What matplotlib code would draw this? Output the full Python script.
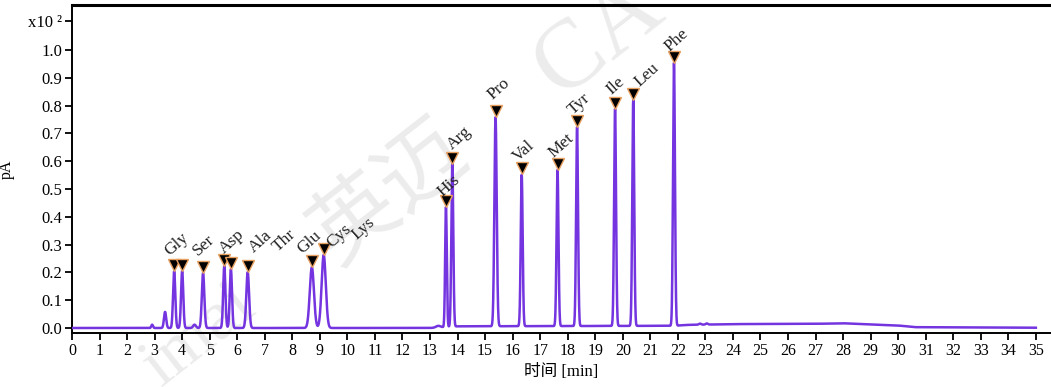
import numpy as np
import matplotlib
matplotlib.use("Agg")
import matplotlib.pyplot as plt
import matplotlib.transforms as mtransforms

# ---------------- data ----------------
# labelled peaks (retention time [min], height [x10^2 pA], sigma [min])
peak_names = ["Gly", "Ser", "Asp", "Ala", "Thr", "Glu", "Cys", "Lys",
              "His", "Arg", "Pro", "Val", "Met", "Tyr", "Ile", "Leu", "Phe"]
peak_t = [3.71, 4.00, 4.76, 5.53, 5.77, 6.38, 8.71, 9.14,
          13.58, 13.81, 15.38, 16.33, 17.63, 18.34, 19.72, 20.38, 21.86]
peak_h = [0.205, 0.205, 0.198, 0.223, 0.212, 0.201, 0.219, 0.263,
          0.432, 0.586, 0.752, 0.545, 0.562, 0.716, 0.781, 0.813, 0.946]
peak_w = [0.040, 0.040, 0.045, 0.040, 0.040, 0.050, 0.075, 0.075,
          0.030, 0.035, 0.042, 0.035, 0.035, 0.035, 0.035, 0.035, 0.035]

# small unlabelled peaks
minor_t = [2.91, 3.38, 4.45, 13.30, 22.80, 23.05]
minor_h = [0.012, 0.058, 0.012, 0.006, 0.004, 0.004]
minor_w = [0.030, 0.040, 0.050, 0.080, 0.040, 0.040]

# baseline drift knots
base_t = [0.0, 13.0, 14.0, 21.9, 22.3, 24.0, 27.0, 28.0, 29.0, 30.0, 30.6, 35.0]
base_v = [0.0, 0.0, 0.006, 0.008, 0.011, 0.014, 0.015, 0.017, 0.013, 0.009, 0.003, 0.001]

# label anchor positions (time, value) as placed by the software
label_t = [3.56, 4.58, 5.52, 6.61, 7.48, 8.35, 9.44, 10.35,
           13.47, 13.80, 15.25, 16.19, 17.47, 18.19, 19.60, 20.62, 21.71]
label_v = [0.259, 0.259, 0.266, 0.270, 0.273, 0.266, 0.288, 0.317,
           0.471, 0.640, 0.820, 0.597, 0.612, 0.766, 0.838, 0.867, 0.993]

x_ticks = list(range(0, 36))
y_ticks = [0.0, 0.1, 0.2, 0.3, 0.4, 0.5, 0.6, 0.7, 0.8, 0.9, 1.0]

# ---------------- build trace ----------------
t = np.linspace(0, 35, 14001)
def gauss(tt, c, h, w):
    return h * np.exp(-0.5 * ((tt - c) / w) ** 2)

baseline = lambda tt: np.interp(tt, base_t, base_v)

def trace_at(tt):
    tt = np.asarray(tt, dtype=float)
    v = baseline(tt)
    for c, h, w in zip(peak_t + minor_t, peak_h + minor_h, peak_w + minor_w):
        v = v + gauss(tt, c, h, w)
    return v

y = trace_at(t)

# ---------------- figure ----------------
W, H = 1051, 387
fig = plt.figure(figsize=(W / 100, H / 100), dpi=100)
ax = fig.add_axes([72 / W, 1 - 333 / H, (W - 72) / W, (333 - 5) / H])
ax.set_zorder(2)
ax.patch.set_alpha(0)

serif = ["Liberation Serif", "Noto Sans CJK SC", "DejaVu Sans"]

# faint watermark (behind the axes)
wm = "#ececec"
fig.text(0.37, 0.50, "英迈", fontsize=62, color=wm, rotation=38,
         ha="center", va="center", family=["Noto Sans CJK SC"], zorder=0)
fig.text(0.57, 0.90, "CA", fontsize=70, color=wm, rotation=38,
         ha="center", va="center", family=["Liberation Serif"], zorder=0)
fig.text(0.19, 0.13, "imai", fontsize=50, color=wm, rotation=38,
         ha="center", va="center", family=["Liberation Serif"], zorder=0)

ax.plot(t, y, color="#7434e0", lw=1.8, solid_joinstyle="round", zorder=3)

# markers just above peak apex
off = mtransforms.ScaledTranslation(0, 4.5 / 72, fig.dpi_scale_trans)
ax.plot(peak_t, trace_at(peak_t), linestyle="none", marker="v", markersize=9,
        markerfacecolor="black", markeredgecolor="#e8a060", markeredgewidth=1.0,
        transform=ax.transData + off, zorder=4)

for name, lt, lv in zip(peak_names, label_t, label_v):
    ax.text(lt, lv, name, rotation=42, rotation_mode="anchor", ha="left",
            va="baseline", fontsize=12.5, family=serif, color="#222222", zorder=5)

ax.set_xlim(0, 35.55)
ax.set_ylim(-0.018, 1.162)

ax.set_xticks(x_ticks)
ax.set_xticklabels([str(v) for v in x_ticks], fontsize=11.5, family=serif)
ax.set_yticks(y_ticks + [1.104])
ax.set_yticklabels(["%.1f" % v for v in y_ticks] + ["x10 \u00b2"], fontsize=12, family=serif)
ax.tick_params(direction="out", length=5, width=1.3, color="black", pad=2)

for s in ("left", "bottom"):
    ax.spines[s].set_linewidth(1.4)
ax.spines["top"].set_linewidth(2.2)
ax.spines["right"].set_visible(False)

ax.set_ylabel("pA", fontsize=11.5, family=serif)
ax.yaxis.set_label_coords(-57 / 979, 0.5)
ax.set_xlabel("时间 [min]", fontsize=12, family=serif, labelpad=4)

fig.savefig("out.png", dpi=100)
